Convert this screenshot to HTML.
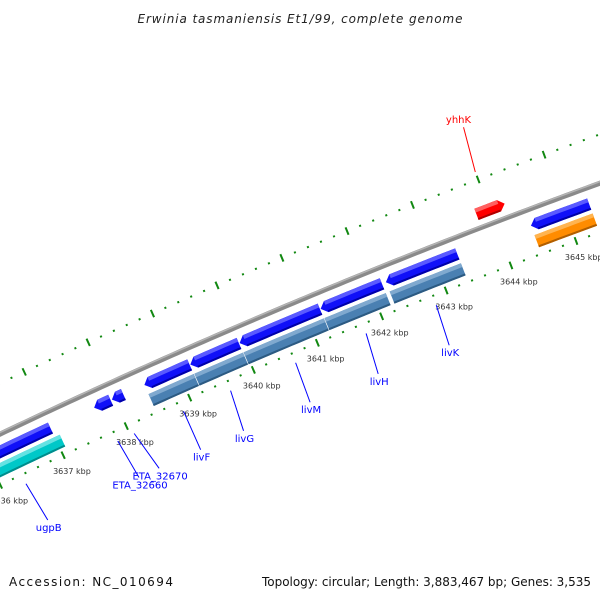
<!DOCTYPE html>
<html><head><meta charset="utf-8"><title>Erwinia tasmaniensis Et1/99 genome map</title>
<style>html,body{margin:0;padding:0;background:#fff;}svg{display:block;font-family:"DejaVu Sans","Liberation Sans",sans-serif;}</style>
</head><body>
<svg id="map" width="600" height="600" viewBox="0 0 600 600" xmlns="http://www.w3.org/2000/svg">
<rect x="0" y="0" width="600" height="600" fill="#fff"/>
<text x="300" y="23" text-anchor="middle" font-size="12" font-style="italic" fill="#222" textLength="325">Erwinia tasmaniensis Et1/99, complete genome</text>
<g id="ticks"></g>
<g id="backbone"></g>
<g id="features"></g>
<g id="labels"></g>
<text x="9" y="586" font-size="12" fill="#111" textLength="164">Accession: NC_010694</text>
<text x="591" y="586" text-anchor="end" font-size="12" fill="#111" textLength="329">Topology: circular; Length: 3,883,467 bp; Genes: 3,535</text>
</svg>
<script>
// ---- data ----
const tickMajorKbp = [3634,3635,3636,3637,3638,3639,3640,3641,3642,3643,3644,3645,3646,3647];
const tickLabels = ["3634 kbp","3635 kbp","3636 kbp","3637 kbp","3638 kbp","3639 kbp","3640 kbp","3641 kbp","3642 kbp","3643 kbp","3644 kbp","3645 kbp","3646 kbp","3647 kbp"];
const geneNames  = ["ugpB-gene","ETA_32660","ETA_32670","livF","livG","livM","livH","livK","gene-3644","yhhK"];
const geneStart  = [3635.50,3637.69,3637.97,3638.48,3639.20,3639.97,3641.23,3642.24,3644.47,3643.80];
const geneEnd    = [3637.00,3637.95,3638.15,3639.19,3639.96,3641.22,3642.18,3643.34,3645.36,3644.23];
const geneStrand = [-1,-1,-1,-1,-1,-1,-1,-1,-1,1];
const cdsNames   = ["ugpB","livF","livG","livM","livH","livK","cds-3644"];
const cdsStart   = [3635.50,3638.48,3639.20,3639.97,3641.23,3642.24,3644.47];
const cdsEnd     = [3637.08,3639.19,3639.96,3641.22,3642.18,3643.34,3645.36];
const cdsColor   = ["cyan","steel","steel","steel","steel","steel","orange"];
const labelText  = ["ugpB","ETA_32660","ETA_32670","livF","livG","livM","livH","livK","yhhK"];
const labelAt    = [3636.34,3637.80,3638.06,3638.84,3639.58,3640.60,3641.70,3642.79,3644.00];
const labelEndAt = [3636.40,3637.86,3638.18,3638.84,3639.52,3640.57,3641.64,3642.75,3644.07];

// ---- geometry ----
const CX=2900, CY=6525, B0=-115.05, K0=3637, DPK=0.5943;
function P(k,r){const b=(B0+(k-K0)*DPK)*Math.PI/180;return [CX+r*Math.cos(b),CY+r*Math.sin(b)];}
function pts(a){return a.map(p=>p[0].toFixed(2)+","+p[1].toFixed(2)).join(" ");}
function arcPts(k0,k1,r){const n=Math.max(2,Math.ceil((k1-k0)/0.1));const o=[];for(let i=0;i<=n;i++)o.push(P(k0+(k1-k0)*i/n,r));return o;}
const NS="http://www.w3.org/2000/svg";
function mk(tag,attrs,parent){const e=document.createElementNS(NS,tag);for(const k in attrs)e.setAttribute(k,attrs[k]);parent.appendChild(e);return e;}

// ---- ticks ----
const tg=document.getElementById('ticks');
const RIN=6700, ROUT=6792;
for(let i=0;i<tickMajorKbp.length;i++){
  const k=tickMajorKbp[i];
  for(let j=0;j<5;j++){
    const kk=k+j*0.2;const major=j===0;const h=major?4:1;
    [RIN,ROUT].forEach(r=>{
      const a=P(kk,r-h),b=P(kk,r+h);
      const t=mk('line',{x1:a[0],y1:a[1],x2:b[0],y2:b[1],stroke:'#118811','stroke-width':2},tg);
      
      
    });
  }
  const lp=P(k,6686);
  const tl=mk('text',{x:(lp[0]-16).toFixed(1),y:(lp[1]+6).toFixed(1),'font-size':8,fill:'#333'},tg);
  tl.textContent=tickLabels[i];
  
  
}

// ---- backbone ----
const bb=document.getElementById('backbone');
const bl=mk('polyline',{points:pts(arcPts(3633,3648,6746)),fill:'none',stroke:'#8a8a8a','stroke-width':5},bb);


const bh=mk('polyline',{points:pts(arcPts(3633,3648,6747.5)),fill:'none',stroke:'#b4b4b4','stroke-width':1.5},bb);



// ---- features ----
const fg=document.getElementById('features');
const PAL={blue:['#1010f8','#5a5aff','#0000a8'],red:['#ff0000','#ff6060','#b00000'],
  steel:['#4a80b2','#80a9cf','#2c5a82'],cyan:['#00c8c8','#66e2e2','#008c8c'],orange:['#ff8c00','#ffb450','#b05e00']};
const HEAD=0.086;
function drawFeat(s,e,r0,r1,strand,col,name){
  const g=mk('g',{},fg);
  
  
  const c=PAL[col];const mid=(r0+r1)/2;let poly;
  if(strand<0){poly=[P(s,mid)].concat(arcPts(s+HEAD,e,r1)).concat(arcPts(s+HEAD,e,r0).reverse());}
  else if(strand>0){poly=arcPts(s,e-HEAD,r1).concat([P(e,mid)]).concat(arcPts(s,e-HEAD,r0).reverse());}
  else{poly=arcPts(s,e,r1).concat(arcPts(s,e,r0).reverse());}
  mk('polygon',{points:pts(poly),fill:c[0]},g);
  const a=strand<0?s+HEAD:s, b=strand>0?e-HEAD:e;
  mk('polygon',{points:pts(arcPts(a,b,r1).concat(arcPts(a,b,r1-4).reverse())),fill:c[1]},g);
  mk('polygon',{points:pts(arcPts(a,b,r0+2).concat(arcPts(a,b,r0).reverse())),fill:c[2]},g);
}
for(let i=0;i<geneNames.length;i++){
  if(geneStrand[i]>0) drawFeat(geneStart[i],geneEnd[i],6754,6766,1,'red','gene-'+geneNames[i]);
  else drawFeat(geneStart[i],geneEnd[i],6724,6736,-1,'blue','gene-'+geneNames[i]);
}
for(let i=0;i<cdsNames.length;i++){
  drawFeat(cdsStart[i],cdsEnd[i],6707,6720,0,cdsColor[i],'cds-'+cdsNames[i]);
}

// ---- labels ----
const lg=document.getElementById('labels');
for(let i=0;i<labelText.length;i++){
  const outer=labelText[i]==='yhhK';
  const a=outer?P(labelAt[i],6800):P(labelAt[i],6690);
  const b=outer?P(labelEndAt[i],6846):P(labelEndAt[i],6648);
  const col=outer?'#ff0000':'#0000ff';
  const ln=mk('line',{x1:a[0],y1:a[1],x2:b[0],y2:b[1],stroke:col,'stroke-width':1},lg);
  
  
  const t=mk('text',{x:(outer?b[0]-5:b[0]+1).toFixed(1),y:(outer?b[1]-4:b[1]+11).toFixed(1),'text-anchor':'middle','font-size':10,fill:col},lg);
  t.textContent=labelText[i];
  
  
}
</script>
</body></html>
